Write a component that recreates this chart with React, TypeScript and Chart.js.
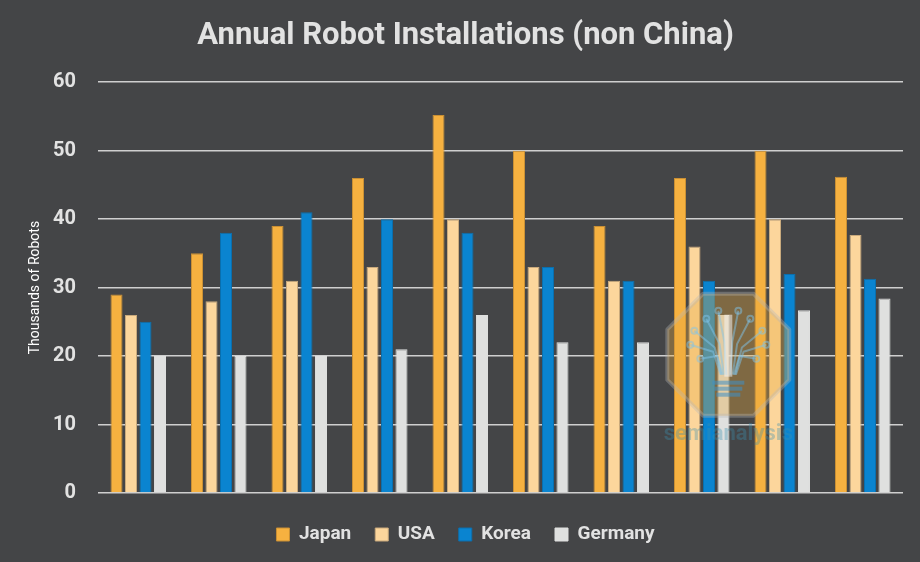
import React, { useEffect, useRef } from "react";
import { Chart, registerables } from "chart.js";

Chart.register(...registerables);

const categories = ["1", "2", "3", "4", "5", "6", "7", "8", "9", "10"];
const japan = [29, 35, 39, 46, 55.2, 50, 39, 46, 50, 46.2];
const usa = [26, 28, 31, 33, 40, 33, 31, 36, 40, 37.7];
const korea = [25, 38, 41, 40, 38, 33, 31, 31, 32, 31.3];
const germany = [20, 20, 20, 21, 26, 22, 22, 26, 26.7, 28.4];
const yTicks = [0, 10, 20, 30, 40, 50, 60];

const BG = "#444547";

const bgPlugin = {
  id: "bg",
  beforeDraw(chart: any) {
    const ctx = chart.ctx;
    ctx.save();
    ctx.fillStyle = BG;
    ctx.fillRect(0, 0, chart.width, chart.height);
    ctx.restore();
  },
};

const watermark = {
  id: "watermark",
  afterDatasetsDraw(chart: any) {
    const ctx = chart.ctx;
    const xs = chart.scales.x;
    const ys = chart.scales.y;
    const step = xs.getPixelForValue(1) - xs.getPixelForValue(0);
    const cx = xs.getPixelForValue(7) + step * 0.33;
    const cy = ys.getPixelForValue(20.2);
    const r = 66;
    ctx.save();
    ctx.globalAlpha = 0.36;
    ctx.beginPath();
    for (let i = 0; i < 8; i++) {
      const a = Math.PI / 8 + (i * Math.PI) / 4;
      const px = cx + r * Math.cos(a);
      const py = cy + r * Math.sin(a);
      if (i === 0) ctx.moveTo(px, py);
      else ctx.lineTo(px, py);
    }
    ctx.closePath();
    ctx.lineJoin = "round";
    ctx.fillStyle = "#e8a83e";
    ctx.fill();
    ctx.lineWidth = 4;
    ctx.strokeStyle = "#b8b8b8";
    ctx.stroke();
    // stylised circuit bulb
    ctx.globalAlpha = 0.5;
    ctx.strokeStyle = "#7fc3ea";
    ctx.fillStyle = "#7fc3ea";
    ctx.lineWidth = 2;
    const branches = [
      [-10, -44], [10, -44], [-22, -36], [22, -36], [-34, -24], [34, -24],
      [-38, -10], [38, -10], [-28, 4], [28, 4],
    ];
    const baseY = cy + 20;
    branches.forEach(([dx, dy]) => {
      ctx.beginPath();
      ctx.moveTo(cx + dx * 0.2, baseY);
      ctx.lineTo(cx + dx * 0.4, cy + dy * 0.3);
      ctx.lineTo(cx + dx, cy + dy);
      ctx.stroke();
      ctx.beginPath();
      ctx.arc(cx + dx, cy + dy, 3, 0, Math.PI * 2);
      ctx.stroke();
    });
    ctx.globalAlpha = 0.55;
    ctx.fillStyle = "#f2f2f2";
    ctx.fillRect(cx - 4, cy - 40, 8, 62);
    ctx.fillStyle = "#3f8fc4";
    for (let k = 0; k < 3; k++) {
      ctx.fillRect(cx - 16 + k * 2, cy + 26 + k * 6, 32 - k * 4, 4);
    }
    ctx.globalAlpha = 0.35;
    ctx.font = "bold 22px Roboto";
    ctx.textAlign = "center";
    ctx.textBaseline = "middle";
    ctx.fillStyle = "#3b8fb0";
    ctx.fillText("semianalysis", cx, ys.getPixelForValue(8.5));
    ctx.restore();
  },
};

export default function App() {
  const ref = useRef<HTMLCanvasElement>(null);
  useEffect(() => {
    document.body.style.margin = "0";
    document.body.style.background = BG;
    const mk = (label: string, data: number[], color: string, border: string) => ({
      label,
      data,
      backgroundColor: color,
      borderColor: border,
      borderWidth: 1,
      categoryPercentage: 0.72,
      barPercentage: 0.83,
    });
    const chart = new Chart(ref.current!, {
      type: "bar",
      data: {
        labels: categories,
        datasets: [
          mk("Japan", japan, "#F6B140", "#c98f34"),
          mk("USA", usa, "#FCD69C", "#c9a97c"),
          mk("Korea", korea, "#0A84D0", "#0a6fae"),
          mk("Germany", germany, "#DFE0DF", "#DFE0DF"),
        ],
      },
      options: {
        animation: false,
        responsive: false,
        layout: { padding: { left: 28, right: 17, top: 8, bottom: 8 } },
        plugins: {
          title: {
            display: true,
            text: "Annual Robot Installations (non China)",
            color: "#e2e2e2",
            font: { family: "Roboto", size: 31, weight: "bold" },
            padding: { top: 10, bottom: 27 },
          },
          legend: {
            position: "bottom",
            labels: {
              color: "#e2e2e2",
              font: { family: "Roboto", size: 19, weight: "bold" },
              boxWidth: 13,
              boxHeight: 13,
              padding: 24,
            },
          },
          tooltip: { enabled: false },
        },
        scales: {
          x: {
            grid: { display: false },
            border: { display: false },
            ticks: { display: false },
          },
          y: {
            min: 0,
            max: 60,
            afterBuildTicks: (axis: any) => {
              axis.ticks = yTicks.map((v) => ({ value: v }));
            },
            afterFit: (axis: any) => {
              axis.width = 70;
            },
            grid: { color: "#cfcfcf", lineWidth: 1.5, drawTicks: false },
            border: { display: false },
            ticks: {
              color: "#e2e2e2",
              font: { family: "Roboto", size: 20, weight: "bold" },
              padding: 22,
            },
            title: {
              display: true,
              text: "Thousands of Robots",
              color: "#ffffff",
              font: { family: "Roboto", size: 14 },
              padding: { top: -1, bottom: 0 },
            },
          },
        },
      },
      plugins: [bgPlugin, watermark],
    });
    return () => chart.destroy();
  }, []);
  return <canvas ref={ref} width={920} height={562} style={{ display: "block" }} />;
}
